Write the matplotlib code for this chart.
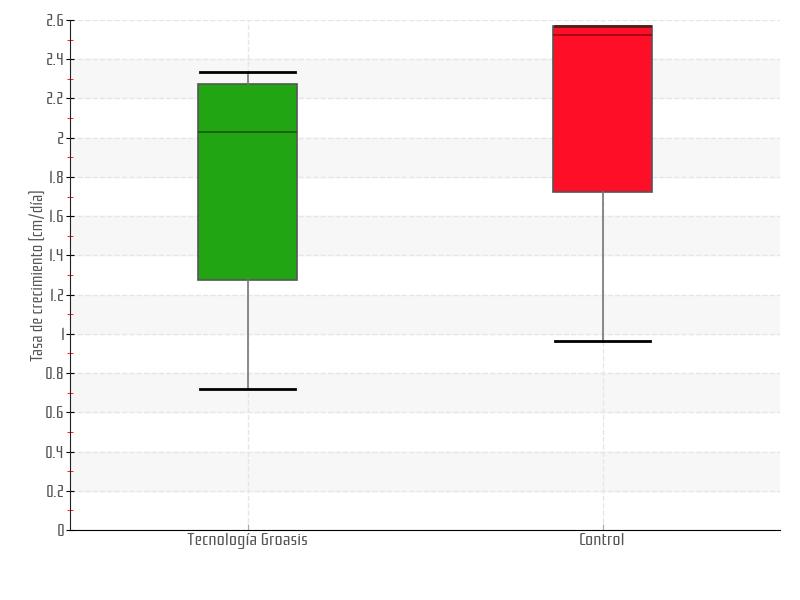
import numpy as np
import matplotlib.pyplot as plt
from matplotlib import font_manager

categories = ['Tecnología Groasis', 'Control']
whislo = [0.72, 0.965]
q1 = [1.275, 1.722]
med = [2.027, 2.524]
q3 = [2.274, 2.57]
whishi = [2.335, 2.57]
fills = ['#22a512', '#ff0f27']
medcols = ['#175e10', '#a0061a']

names = {f.name for f in font_manager.fontManager.ttflist}
fam = 'Rationale' if 'Rationale' in names else 'DejaVu Sans'
plt.rcParams['font.family'] = [fam, 'DejaVu Sans']

fig = plt.figure(figsize=(8, 6), dpi=100)
ax = fig.add_axes([0.0875, 0.1167, 0.8875, 0.85])

# alternating bands
for lo in np.arange(0.2, 2.6, 0.4):
    ax.axhspan(lo, lo + 0.2, color='#f7f7f7', zorder=0)

stats = []
for i in range(len(categories)):
    stats.append(dict(med=med[i], q1=q1[i], q3=q3[i], whislo=whislo[i],
                      whishi=whishi[i], fliers=[], label=categories[i]))

bp = ax.bxp(stats, positions=[0, 1], widths=0.28, patch_artist=True,
            showfliers=False,
            whiskerprops=dict(color='#777777', lw=1.2),
            capprops=dict(color='black', lw=2),
            boxprops=dict(edgecolor='#555555', lw=1.2),
            capwidths=0.27)
for i, b in enumerate(bp['boxes']):
    b.set_facecolor(fills[i])
for i, m in enumerate(bp['medians']):
    m.set_color(medcols[i])
    m.set_linewidth(1.3)
# control's top cap sits on the box edge, drawn darker
bp['caps'][3].set_color('#5a1a1a')

ax.set_xlim(-0.5, 1.5)
ax.set_ylim(0, 2.6)
ax.set_yticks(np.arange(0, 2.61, 0.2))
ax.set_yticklabels(['0', '0.2', '0.4', '0.6', '0.8', '1', '1.2', '1.4', '1.6',
                    '1.8', '2', '2.2', '2.4', '2.6'])
ax.set_yticks(np.arange(0.1, 2.6, 0.2), minor=True)
ax.tick_params(axis='y', which='major', direction='inout', length=6,
               labelsize=13, labelcolor='#555555', pad=1)
ax.tick_params(axis='y', which='minor', direction='inout', length=4, color='red')
ax.tick_params(axis='x', direction='in', length=4, color='#aaaaaa',
               labelsize=13, labelcolor='#555555', pad=2)
ax.grid(True, axis='both', which='major', linestyle='--', color='#e6e6e6', lw=1)
ax.set_axisbelow(True)
for s in ['top', 'right']:
    ax.spines[s].set_visible(False)
ax.spines['left'].set_color('#222222')
ax.spines['bottom'].set_color('black')
ax.set_ylabel('Tasa de crecimiento (cm/día)', fontsize=12, color='#555555')
ax.yaxis.set_label_coords(-0.031, 0.5)

fig.savefig('out.png', dpi=100)
